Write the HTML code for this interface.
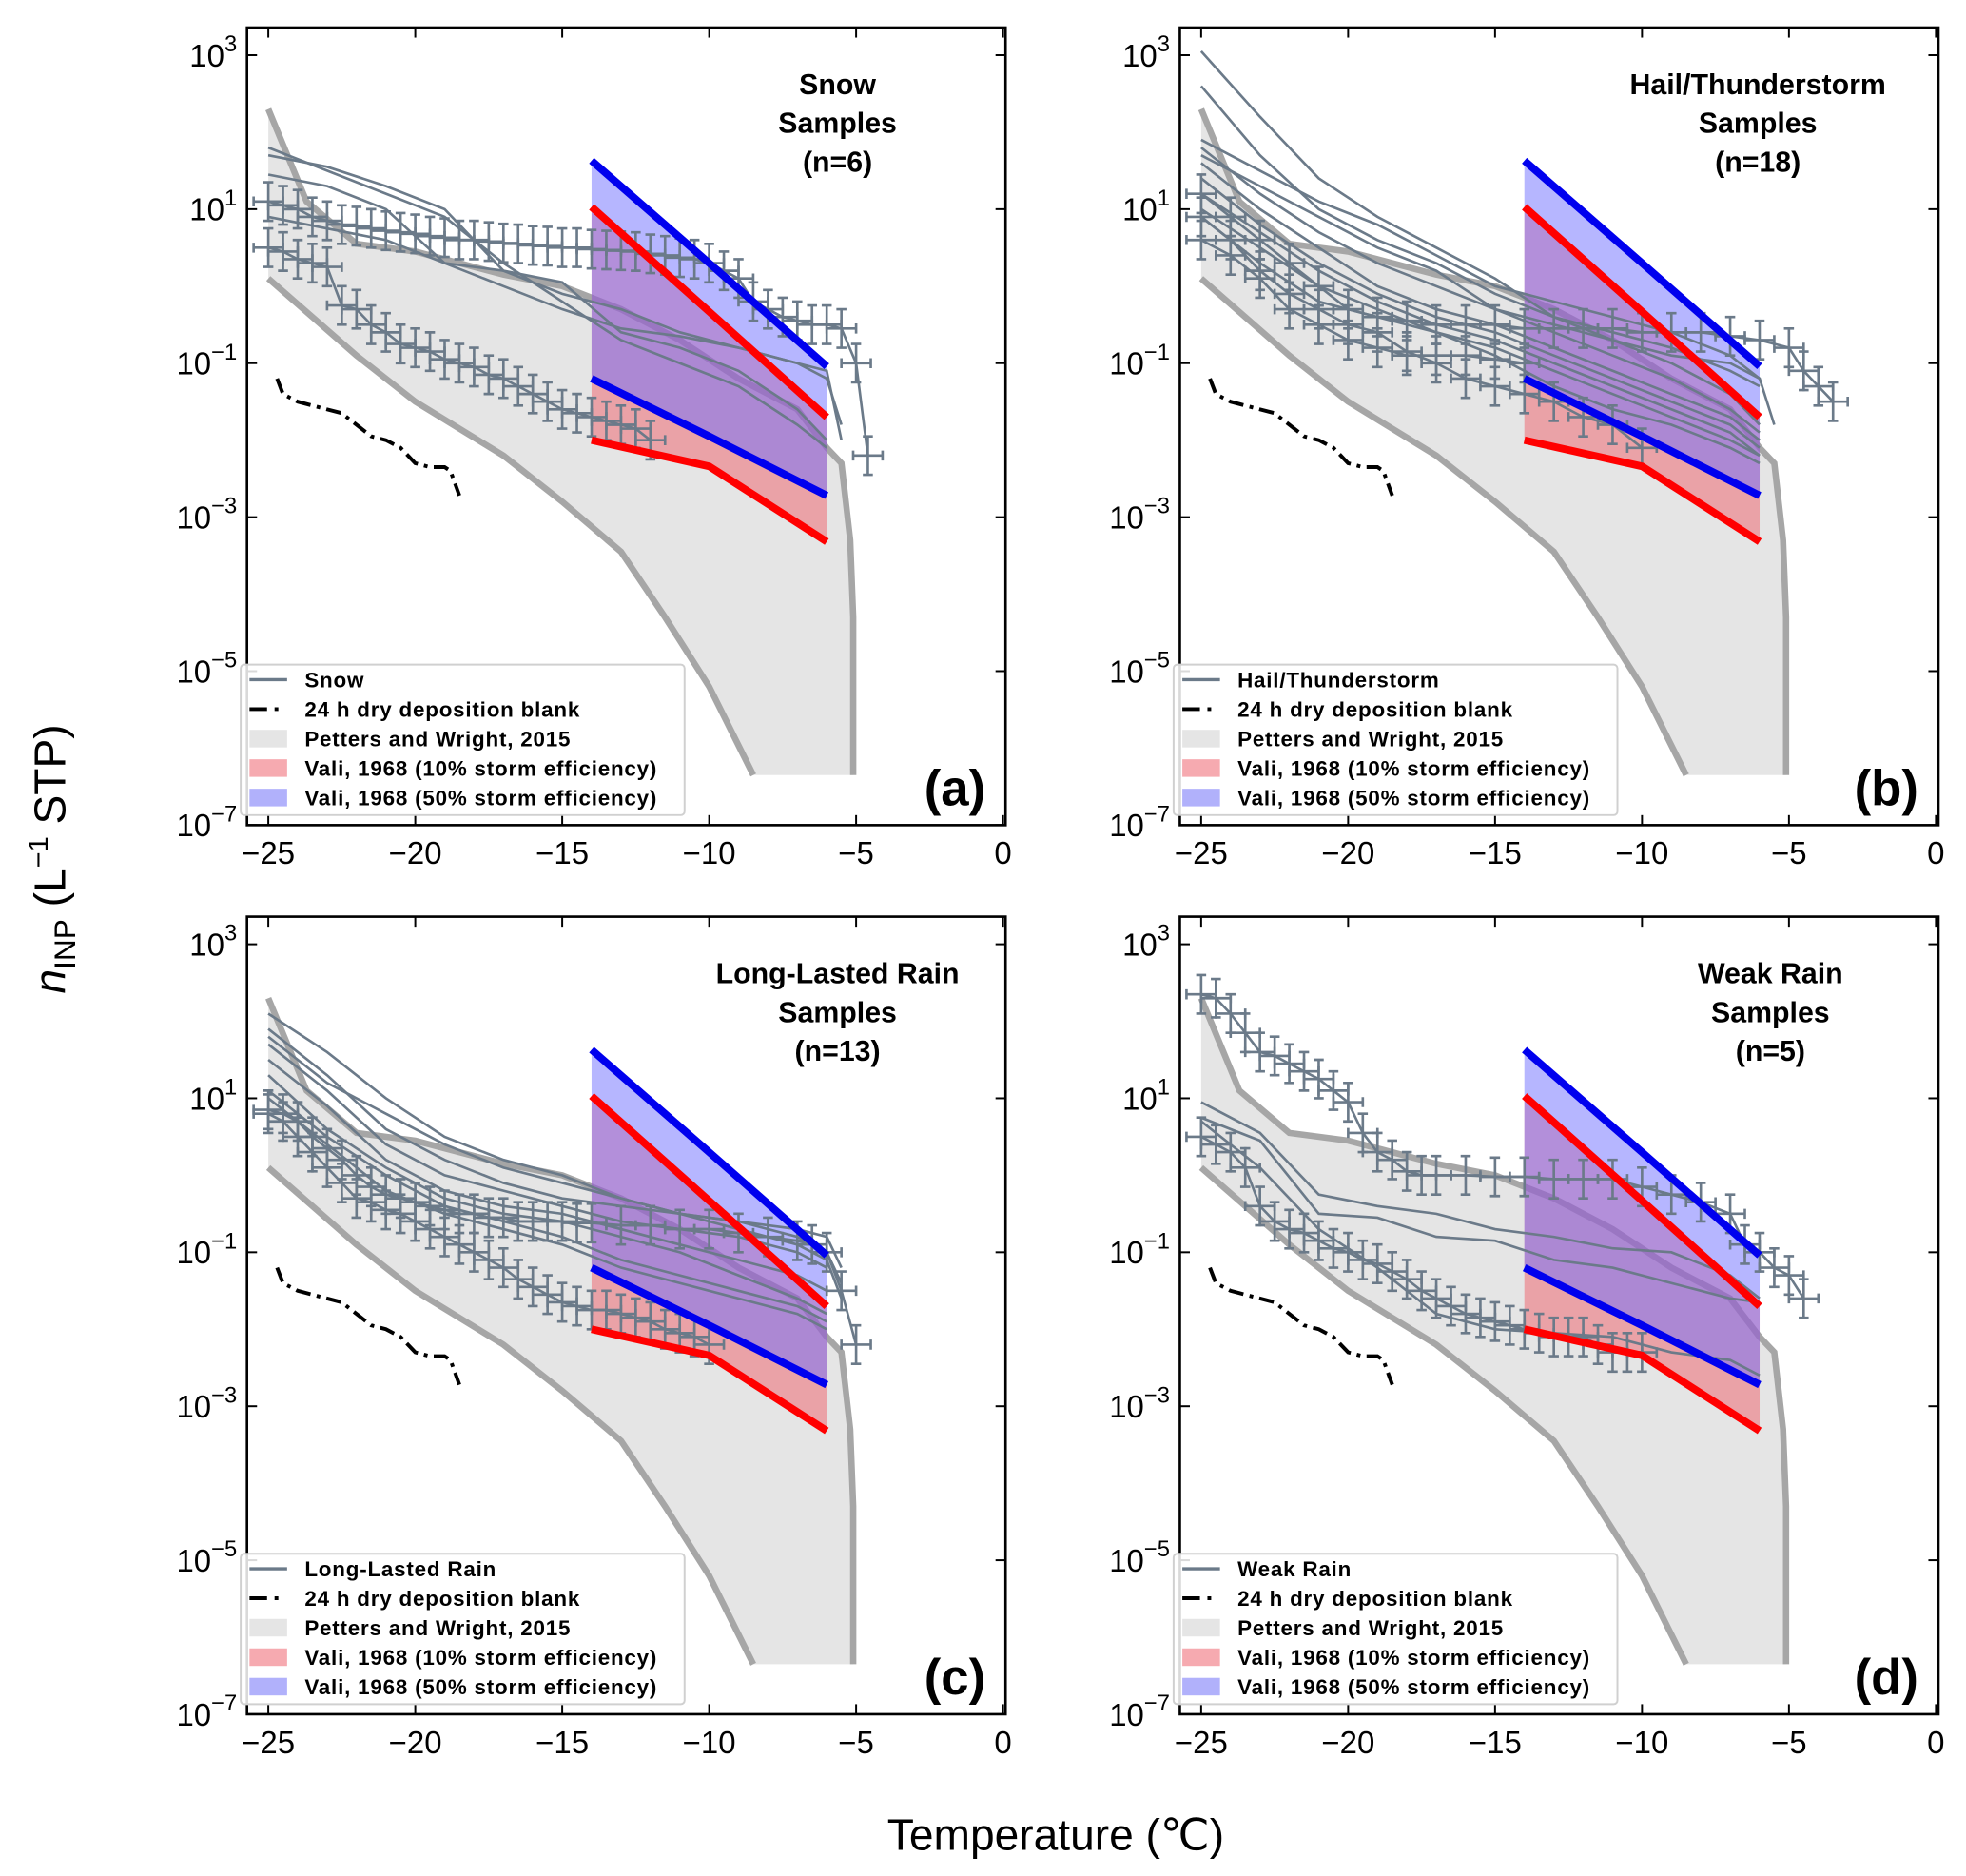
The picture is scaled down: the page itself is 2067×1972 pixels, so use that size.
<!DOCTYPE html>
<html><head><meta charset="utf-8"><style>
html,body{margin:0;padding:0;background:#fff;}
svg{display:block;}
text{font-family:"Liberation Sans","DejaVu Sans",sans-serif;}
</style></head><body>
<svg id="fig" width="2067" height="1972" viewBox="0 0 1568 1496" preserveAspectRatio="none" xmlns="http://www.w3.org/2000/svg">
<text transform="translate(52,685) rotate(-90)" text-anchor="middle" font-size="35"><tspan font-style="italic">n</tspan><tspan font-size="24" dy="8">INP</tspan><tspan dy="-8"> (L</tspan><tspan font-size="22" dy="-14">−1</tspan><tspan dy="14"> STP)</tspan></text>
<text x="842" y="1475" text-anchor="middle" font-size="35">Temperature (℃)</text>
</svg>
<script>
// ---- shared reference data ----
const pwUpperT = [-25,-23.7,-22,-20,-17,-15,-13,-11,-9,-7,-6,-5.5,-5.2,-5.1,-5.1];
const pwUpperV = [2.3,1.1,0.55,0.45,0.15,0.0,-0.3,-0.7,-1.2,-1.6,-2.1,-2.3,-3.3,-4.3,-6.35];
const pwLowerT = [-25,-22,-20,-17,-15,-13,-11.5,-10,-8.5];
const pwLowerV = [0.1,-0.9,-1.5,-2.2,-2.8,-3.45,-4.3,-5.2,-6.35];
const blankT = [-24.7,-24.5,-24,-23.5,-22.5,-22,-21.5,-21,-20.5,-20,-19.5,-19,-18.8,-18.5];
const blankV = [-1.2,-1.4,-1.5,-1.55,-1.65,-1.8,-1.95,-2.0,-2.1,-2.3,-2.35,-2.35,-2.4,-2.72];
const valiT = [-14,-10,-6];
const vali50Hi = [1.63,0.3,-1.04];
const vali50Lo = [-1.2,-1.95,-2.72];
const vali10Hi = [1.03,-0.33,-1.7];
const vali10Lo = [-2.0,-2.34,-3.32];
const xTicks = [-25,-20,-15,-10,-5,0];
const yTicks = [3,1,-1,-3,-5,-7];
const G = [-25,-23,-21,-19,-17,-15,-13,-11,-9,-7,-6,-5.5];

// ---- panel (a) snow ----
const aEb1T = [-25,-24.5,-24,-23.5,-23,-22.5,-22,-21.5,-21,-20.5,-20,-19.5,-19,-18.5,-18,-17.5,-17,-16.5,-16,-15.5,-15,-14.5,-14,-13.5,-13,-12.5,-12,-11.5,-11,-10.5,-10,-9.5,-9,-8.5,-8,-7.5,-7,-6.5,-6,-5.5,-5,-4.6];
const aEb1V = [1.1,1.05,1.0,0.9,0.85,0.8,0.78,0.75,0.72,0.7,0.68,0.65,0.63,0.6,0.6,0.58,0.56,0.55,0.53,0.52,0.5,0.5,0.48,0.47,0.46,0.45,0.42,0.4,0.37,0.35,0.3,0.2,0.1,-0.2,-0.3,-0.4,-0.45,-0.5,-0.5,-0.55,-1.0,-2.2];
const aEb2T = [-25,-24.5,-24,-23.5,-23,-22.5,-22,-21.5,-21,-20.5,-20,-19.5,-19,-18.5,-18,-17.5,-17,-16.5,-16,-15.5,-15,-14.5,-14,-13.5,-13,-12.5,-12];
const aEb2V = [0.5,0.45,0.35,0.3,0.25,-0.25,-0.3,-0.5,-0.6,-0.75,-0.8,-0.85,-0.95,-1.0,-1.05,-1.15,-1.2,-1.3,-1.4,-1.5,-1.6,-1.65,-1.7,-1.75,-1.8,-1.85,-2.0];
const aL1 = [1.8,1.5,1.2,0.9,0.3,-0.2,-0.7,-1.0,-1.3,-1.8,-2.1];
const aL2 = [1.7,1.55,1.3,1.0,0.2,-0.1,-0.3,-0.6,-0.8,-1.0,-1.1,-2.0];
const aL3 = [1.45,1.3,1.0,0.3,0.2,0.05,-0.6,-0.8,-1.1,-1.6,-2.0];
const aL4 = [0.9,0.75,0.6,0.3,0.0,-0.3,-0.55,-0.65,-0.8,-1.0,-1.2,-1.8];

// ---- panel (b) hail/thunderstorm ----
const bEb1T = [-25,-24,-23,-22,-21,-20,-19,-18,-17,-16,-15,-14,-13,-12,-11,-10,-9,-8,-7,-6,-5,-4.5,-4,-3.5];
const bEb1V = [1.2,0.9,0.6,0.3,0.0,-0.3,-0.4,-0.45,-0.5,-0.5,-0.5,-0.55,-0.55,-0.55,-0.55,-0.6,-0.6,-0.6,-0.65,-0.7,-0.8,-1.1,-1.3,-1.5];
const bEb2T = [-25,-24,-23,-22,-21,-20,-19,-18,-17,-16,-15,-14,-13,-12,-11,-10];
const bEb2V = [0.9,0.6,0.2,-0.1,-0.3,-0.5,-0.6,-0.85,-1.0,-1.2,-1.3,-1.4,-1.5,-1.7,-1.8,-2.1];
const bEb3T = [-25,-24,-23,-22,-21,-20,-19,-18,-17,-16,-15,-14];
const bEb3V = [0.6,0.4,0.1,-0.3,-0.5,-0.7,-0.8,-0.9,-0.9,-0.9,-0.95,-1.0];
const bL1 = [3.05,2.2,1.4,0.9,0.5,0.1,-0.4,-0.7,-0.9,-1.0,-1.2,-1.8];
const bL2 = [2.6,1.7,1.0,0.6,0.3,-0.1,-0.4,-0.6,-0.8,-1.1,-1.3];
const bL3 = [1.9,1.5,1.1,0.8,0.4,0.0,-0.2,-0.4,-0.6,-0.9,-1.2];
const bL4 = [1.8,1.2,0.7,0.3,0.0,-0.3,-0.6,-0.9,-1.2,-1.6,-1.9];
const bL5 = [1.6,1.0,0.5,0.0,-0.3,-0.5,-0.8,-1.1,-1.4,-1.7,-2.0];
const bL6 = [1.4,0.8,0.3,-0.1,-0.4,-0.6,-0.9,-1.2,-1.5,-1.8,-2.1];
const bL7 = [1.2,0.7,0.2,-0.2,-0.5,-0.7,-1.0,-1.3,-1.6,-1.9,-2.2];
const bL8 = [1.0,0.5,0.0,-0.3,-0.6,-0.8,-1.1,-1.4,-1.7,-2.0,-2.2];
const bL9 = [1.7,1.3,0.9,0.5,0.2,-0.3,-0.5,-0.7,-1.0,-1.4,-1.8];
const bL10 = [0.9,0.3,-0.2,-0.4,-0.6,-0.9,-1.3,-1.6,-1.8,-2.1,-2.3];

// ---- panel (c) long-lasted rain ----
const cEb1T = [-25,-24.5,-24,-23.5,-23,-22.5,-22,-21.5,-21,-20.5,-20,-19.5,-19,-18.5,-18,-17.5,-17,-16.5,-16,-15.5,-15,-14.5,-14,-13,-12,-11,-10,-9,-8,-7,-6.5,-6,-5.5,-5];
const cEb1V = [0.85,0.8,0.7,0.5,0.35,0.2,0.0,-0.15,-0.25,-0.3,-0.35,-0.4,-0.45,-0.5,-0.5,-0.55,-0.55,-0.6,-0.6,-0.6,-0.6,-0.62,-0.62,-0.65,-0.65,-0.7,-0.7,-0.75,-0.8,-0.85,-0.9,-1.0,-1.5,-2.2];
const cEb2T = [-25,-24.5,-24,-23.5,-23,-22.5,-22,-21.5,-21,-20.5,-20,-19.5,-19,-18.5,-18,-17.5,-17,-16.5,-16,-15.5,-15,-14.5,-14,-13.5,-13,-12.5,-12,-11.5,-11,-10.5,-10];
const cEb2V = [0.8,0.7,0.5,0.3,0.1,-0.1,-0.3,-0.35,-0.45,-0.5,-0.6,-0.7,-0.8,-0.9,-1.0,-1.1,-1.2,-1.35,-1.45,-1.55,-1.65,-1.7,-1.75,-1.75,-1.8,-1.85,-1.9,-2.0,-2.05,-2.1,-2.2];
const cL1 = [2.1,1.6,1.0,0.5,0.2,0.0,-0.3,-0.5,-0.7,-0.9,-1.1,-1.6];
const cL2 = [1.9,1.3,0.6,0.2,-0.1,-0.3,-0.4,-0.5,-0.6,-0.8,-1.0,-1.4];
const cL3 = [1.7,1.1,0.4,0.0,-0.2,-0.4,-0.6,-0.7,-0.8,-1.0,-1.2];
const cL4 = [1.5,0.9,0.2,-0.2,-0.4,-0.5,-0.7,-0.9,-1.1,-1.3,-1.5];
const cL5 = [1.3,0.6,0.1,-0.3,-0.5,-0.6,-0.8,-1.0,-1.3,-1.6,-1.8];
const cL6 = [1.1,0.5,0.0,-0.4,-0.6,-0.8,-1.1,-1.3,-1.5,-1.7,-1.9];
const cL7 = [1.8,1.2,0.8,0.4,0.1,-0.1,-0.3,-0.5,-0.6,-0.7,-0.8,-1.2];
const cL8 = [1.0,0.4,-0.2,-0.5,-0.7,-0.9,-1.2,-1.4,-1.6,-1.8,-2.0];

// ---- panel (d) weak rain ----
const dEb1T = [-25,-24.5,-24,-23.5,-23,-22.5,-22,-21.5,-21,-20.5,-20,-19.5,-19,-18.5,-18,-17.5,-17,-16,-15,-14,-13,-12,-11,-10,-9,-8,-7,-6.5,-6,-5.5,-5,-4.5];
const dEb1V = [2.35,2.3,2.1,1.85,1.6,1.55,1.45,1.35,1.25,1.1,0.95,0.55,0.3,0.2,0.05,0.0,0.0,0.0,-0.02,-0.02,-0.05,-0.05,-0.05,-0.15,-0.25,-0.35,-0.5,-0.9,-1.0,-1.2,-1.3,-1.6];
const dEb2T = [-25,-24.5,-24,-23.5,-23,-22.5,-22,-21.5,-21,-20.5,-20,-19.5,-19,-18.5,-18,-17.5,-17,-16.5,-16,-15.5,-15,-14.5,-14,-13.5,-13,-12.5,-12,-11.5,-11,-10.5,-10];
const dEb2V = [0.5,0.4,0.3,0.1,-0.4,-0.6,-0.7,-0.75,-0.85,-0.95,-1.0,-1.1,-1.15,-1.25,-1.35,-1.5,-1.6,-1.7,-1.8,-1.85,-1.9,-1.95,-2.0,-2.05,-2.1,-2.1,-2.1,-2.2,-2.3,-2.3,-2.3];
const dL1 = [0.95,0.55,-0.25,-0.4,-0.5,-0.7,-0.8,-0.95,-1.0,-1.3,-1.6];
const dL2 = [0.75,0.45,-0.5,-0.55,-0.8,-0.85,-1.1,-1.2,-1.4,-1.6,-1.65];
const dL3 = [0.7,0.1,-0.7,-1.2,-1.8,-2.0,-2.05,-2.1,-2.3,-2.4,-2.6];

const panels = [
  {id:'a', ox:0, oy:0, title:['Snow','Samples','(n=6)'], leg:'Snow', tag:'(a)',
   eb:[[aEb1T,aEb1V],[aEb2T,aEb2V]], lines:[aL1,aL2,aL3,aL4]},
  {id:'b', ox:744, oy:0, title:['Hail/Thunderstorm','Samples','(n=18)'], leg:'Hail/Thunderstorm', tag:'(b)',
   eb:[[bEb1T,bEb1V],[bEb2T,bEb2V],[bEb3T,bEb3V]], lines:[bL1,bL2,bL3,bL4,bL5,bL6,bL7,bL8,bL9,bL10]},
  {id:'c', ox:0, oy:709, title:['Long-Lasted Rain','Samples','(n=13)'], leg:'Long-Lasted Rain', tag:'(c)',
   eb:[[cEb1T,cEb1V],[cEb2T,cEb2V]], lines:[cL1,cL2,cL3,cL4,cL5,cL6,cL7,cL8]},
  {id:'d', ox:744, oy:709, title:['Weak Rain','Samples','(n=5)'], leg:'Weak Rain', tag:'(d)',
   eb:[[dEb1T,dEb1V],[dEb2T,dEb2V]], lines:[dL1,dL2,dL3]}
];

const NS='http://www.w3.org/2000/svg';
const fig=document.getElementById('fig');
function mk(tag,attrs,parent){const e=document.createElementNS(NS,tag);for(const k in attrs)e.setAttribute(k,attrs[k]);(parent||fig).appendChild(e);return e;}

const L=197,R=802,T0=22,B0=658, X0=214, XS=(800-214)/25, DEC=61.4;
const SERIES='#6b7a89';

panels.forEach(p=>{
  const g=mk('g',{transform:`translate(${p.ox},${p.oy})`});
  
  
  const xs=t=>X0+(t+25)*XS;
  const ys=v=>B0-(v+7)*DEC;
  const cp=mk('clipPath',{id:'clip'+p.id},g);
  mk('rect',{x:L,y:T0,width:R-L,height:B0-T0},cp);
  const plot=mk('g',{'clip-path':`url(#clip${p.id})`},g);
  
  
  const pts=(T,V)=>T.map((t,i)=>xs(t).toFixed(1)+','+ys(V[i]).toFixed(1)).join(' ');
  const bottom=pwUpperV[pwUpperV.length-1];
  const bandPts=pts(pwUpperT,pwUpperV)+' '+xs(pwLowerT[pwLowerT.length-1])+','+ys(bottom)+' '+pts(pwLowerT.slice().reverse(),pwLowerV.slice().reverse());
  const band=mk('polygon',{points:bandPts,fill:'#e5e5e5',stroke:'none'},plot);
  
  
  const pu=mk('polyline',{points:pts(pwUpperT,pwUpperV),fill:'none',stroke:'#a6a6a6','stroke-width':5},plot);
  
  
  const pl=mk('polyline',{points:pts(pwLowerT,pwLowerV),fill:'none',stroke:'#a6a6a6','stroke-width':5},plot);
  
  
  const f10=mk('polygon',{points:pts(valiT,vali10Hi)+' '+pts(valiT.slice().reverse(),vali10Lo.slice().reverse()),fill:'rgba(240,80,90,0.45)'},plot);
  
  
  const f50=mk('polygon',{points:pts(valiT,vali50Hi)+' '+pts(valiT.slice().reverse(),vali50Lo.slice().reverse()),fill:'rgba(110,110,255,0.5)'},plot);
  
  
  const bl=mk('polyline',{points:pts(blankT,blankV),fill:'none',stroke:'#000','stroke-width':3,'stroke-dasharray':'12,5,3,5'},plot);
  
  
  p.lines.forEach((V,i)=>{
    const ln=mk('polyline',{points:pts(G.slice(0,V.length),V),fill:'none',stroke:SERIES,'stroke-width':2},plot);
    
    
  });
  p.eb.forEach((s,j)=>{
    const [T,V]=s;
    const eg=mk('g',{stroke:SERIES,'stroke-width':2,fill:'none'},plot);
    
    
    mk('polyline',{points:pts(T,V)},eg);
    T.forEach((t,i)=>{
      const x=xs(t),y=ys(V[i]),hx=0.5*XS,vy=0.25*DEC;
      mk('path',{d:`M${x-hx},${y}H${x+hx}M${x},${y-vy}V${y+vy}M${x-4},${y-vy}H${x+4}M${x-4},${y+vy}H${x+4}M${x-hx},${y-4}V${y+4}M${x+hx},${y-4}V${y+4}`},eg);
    });
  });
  [[vali10Hi,'#ff0000','vali-10pct-upper'],[vali10Lo,'#ff0000','vali-10pct-lower'],[vali50Hi,'#0000ee','vali-50pct-upper'],[vali50Lo,'#0000ee','vali-50pct-lower']].forEach(v=>{
    const e=mk('polyline',{points:pts(valiT,v[0]),fill:'none',stroke:v[1],'stroke-width':6},plot);
    
    
  });
  const fr=mk('rect',{x:L,y:T0,width:R-L,height:B0-T0,fill:'none',stroke:'#000','stroke-width':2},g);
  
  
  xTicks.forEach(t=>{
    const x=xs(t);
    mk('line',{x1:x,y1:B0,x2:x,y2:B0-8,stroke:'#000','stroke-width':1.5},g);
    mk('line',{x1:x,y1:T0,x2:x,y2:T0+8,stroke:'#000','stroke-width':1.5},g);
    const tl=mk('text',{x:x,y:B0+31,'text-anchor':'middle','font-size':25},g);
    tl.textContent=(t<0?'−':'')+Math.abs(t);
    
    
  });
  yTicks.forEach(v=>{
    const y=ys(v);
    mk('line',{x1:L,y1:y,x2:L+8,y2:y,stroke:'#000','stroke-width':1.5},g);
    mk('line',{x1:R,y1:y,x2:R-8,y2:y,stroke:'#000','stroke-width':1.5},g);
    const tl=mk('text',{x:L-8,y:y+9,'text-anchor':'end','font-size':25},g);
    tl.innerHTML='10<tspan font-size="18" dy="-12">'+(v<0?'−':'')+Math.abs(v)+'</tspan>';
    
    
  });
  const tt=mk('text',{x:668,y:0,'text-anchor':'middle','font-size':23,'font-weight':'bold'},g);
  
  
  p.title.forEach((s,i)=>{const ts=mk('tspan',{x:p.id==='b'?658:668,y:75+i*31},tt);ts.textContent=s;});
  const tg=mk('text',{x:786,y:642,'text-anchor':'end','font-size':40,'font-weight':'bold'},g);
  tg.textContent=p.tag;
  
  
  const lg=mk('g',{},g);
  
  
  mk('rect',{x:192,y:530,width:354,height:120,rx:3,fill:'#fff','fill-opacity':0.85,stroke:'#d0d0d0','stroke-width':1.5},lg);
  const ents=[[p.leg,'line'],['24 h dry deposition blank','dash'],['Petters and Wright, 2015','#e5e5e5'],['Vali, 1968 (10% storm efficiency)','#f6aab0'],['Vali, 1968 (50% storm efficiency)','#b1b1fb']];
  ents.forEach((en,i)=>{
    const y=542+i*23.5;
    const eg=mk('g',{},lg);
    
    
    if(en[1]==='line') mk('line',{x1:199,y1:y,x2:229,y2:y,stroke:SERIES,'stroke-width':2.5},eg);
    else if(en[1]==='dash') mk('line',{x1:199,y1:y,x2:230,y2:y,stroke:'#000','stroke-width':3,'stroke-dasharray':'14,6,3,20'},eg);
    else mk('rect',{x:199,y:y-7,width:30,height:14,fill:en[1]},eg);
    const t=mk('text',{x:243,y:y+6,'font-size':17,'font-weight':'bold','letter-spacing':'0.6'},eg);
    t.textContent=en[0];
  });
});
</script>
</body></html>
